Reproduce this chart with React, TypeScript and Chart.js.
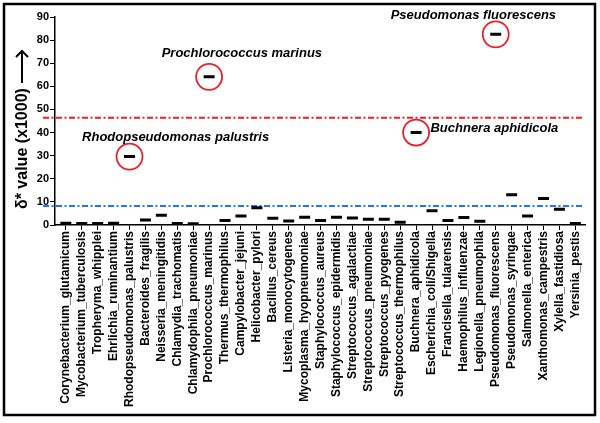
import React, { useEffect, useRef } from "react";
import { Chart, registerables } from "chart.js";

Chart.register(...registerables);

const categories = [
  "Corynebacterium_glutamicum",
  "Mycobacterium_tuberculosis",
  "Tropheryma_whipplei",
  "Ehrlichia_ruminantium",
  "Rhodopseudomonas_palustris",
  "Bacteroides_fragilis",
  "Neisseria_meningitidis",
  "Chlamydia_trachomatis",
  "Chlamydophila_pneumoniae",
  "Prochlorococcus_marinus",
  "Thermus_thermophilus",
  "Campylobacter_jejuni",
  "Helicobacter_pylori",
  "Bacillus_cereus",
  "Listeria_monocytogenes",
  "Mycoplasma_hyopneumoniae",
  "Staphylococcus_aureus",
  "Staphylococcus_epidermidis",
  "Streptococcus_agalactiae",
  "Streptococcus_pneumoniae",
  "Streptococcus_pyogenes",
  "Streptococcus_thermophilus",
  "Buchnera_aphidicola",
  "Escherichia_coli/Shigella",
  "Francisella_tularensis",
  "Haemophilus_influenzae",
  "Legionella_pneumophila",
  "Pseudomonas_fluorescens",
  "Pseudomonas_syringae",
  "Salmonella_enterica",
  "Xanthomonas_campestris",
  "Xylella_fastidiosa",
  "Yersinia_pestis",
];

const deltaValues = [
  0.8, 0.7, 0.6, 0.8, 29.6, 2.2, 4.2, 0.7, 0.5, 64.1, 1.9, 3.9, 7.5, 2.9, 1.7,
  3.3, 1.9, 3.3, 3.0, 2.5, 2.5, 1.2, 40.0, 6.2, 2.0, 3.2, 1.6, 82.5, 13.1, 3.9,
  11.5, 6.8, 0.7,
];

const highlightedIdx = [4, 9, 22, 27];

const thresholdHigh = 46.4;
const thresholdLow = 8.2;

const yTickValues = [0, 10, 20, 30, 40, 50, 60, 70, 80, 90];

const annotationTexts = [
  "Rhodopseudomonas palustris",
  "Prochlorococcus marinus",
  "Buchnera aphidicola",
  "Pseudomonas fluorescens",
];
const annotationX = [1.02, 6.02, 22.9, 20.4];
const annotationY = [38.0, 74.4, 41.9, 90.6];

const yTitle = "δ* value (x1000)";

const FONT = "'Liberation Sans', Arial, sans-serif";

const decorPlugin = {
  id: "decor",
  beforeDraw(chart: any) {
    const { ctx, width, height } = chart;
    ctx.save();
    ctx.fillStyle = "#ffffff";
    ctx.fillRect(0, 0, width, height);
    ctx.strokeStyle = "#000000";
    ctx.lineWidth = 2.5;
    ctx.strokeRect(4, 4, 591, 411);
    ctx.restore();
  },
  beforeDatasetsDraw(chart: any) {
    const { ctx, chartArea, scales } = chart;
    const y = scales.y;
    ctx.save();
    const lines = [
      { v: thresholdHigh, c: "#e8202a" },
      { v: thresholdLow, c: "#1a7cf0" },
    ];
    for (const l of lines) {
      const py = y.getPixelForValue(l.v);
      ctx.strokeStyle = l.c;
      ctx.lineWidth = 2;
      ctx.setLineDash([6, 2.5, 2, 2.5]);
      ctx.beginPath();
      ctx.moveTo(chartArea.left - 12, py);
      ctx.lineTo(chartArea.right - 2, py);
      ctx.stroke();
    }
    ctx.restore();
  },
  afterDraw(chart: any) {
    const { ctx, scales } = chart;
    const x = scales.x;
    const y = scales.y;
    ctx.save();
    // y axis title (rotated, reading upward)
    ctx.translate(23, 209);
    ctx.rotate(-Math.PI / 2);
    ctx.fillStyle = "#000000";
    ctx.font = `bold 16px ${FONT}`;
    ctx.textAlign = "left";
    ctx.textBaseline = "middle";
    ctx.fillText(yTitle, 0, 0);
    const tw = ctx.measureText(yTitle).width;
    const a0 = tw + 5;
    const a1 = 158;
    ctx.strokeStyle = "#000000";
    ctx.lineWidth = 2;
    ctx.beginPath();
    ctx.moveTo(a0, -1);
    ctx.lineTo(a1, -1);
    ctx.stroke();
    ctx.beginPath();
    ctx.moveTo(a1 - 6, -7);
    ctx.lineTo(a1, -1);
    ctx.lineTo(a1 - 6, 5);
    ctx.stroke();
    ctx.restore();

    ctx.save();
    ctx.fillStyle = "#000000";
    ctx.font = `italic bold 13px ${FONT}`;
    ctx.textAlign = "left";
    ctx.textBaseline = "middle";
    annotationTexts.forEach((t, i) => {
      ctx.fillText(
        t,
        x.getPixelForValue(annotationX[i]),
        y.getPixelForValue(annotationY[i])
      );
    });
    ctx.restore();
  },
};

export default function App() {
  const canvasRef = useRef<HTMLCanvasElement | null>(null);

  useEffect(() => {
    const canvas = canvasRef.current;
    if (!canvas) return;
    const chart = new Chart(canvas, {
      type: "scatter",
      data: {
        datasets: [
          {
            label: "circles",
            data: highlightedIdx.map((i) => ({ x: i, y: deltaValues[i] })),
            pointStyle: "circle",
            pointRadius: 13,
            pointBorderWidth: 1.8,
            pointBorderColor: "#e8202a",
            pointBackgroundColor: "rgba(0,0,0,0)",
            showLine: false,
          } as any,
          {
            label: "delta",
            data: deltaValues.map((v, i) => ({ x: i, y: v })),
            pointStyle: "line",
            pointRadius: 5.5,
            pointBorderWidth: 3,
            pointBorderColor: "#000000",
            pointBackgroundColor: "#000000",
            showLine: false,
          } as any,
        ],
      },
      options: {
        animation: false,
        responsive: false,
        events: [],
        layout: { padding: { left: 0, right: 8, top: 17, bottom: 0 } },
        plugins: {
          legend: { display: false },
          tooltip: { enabled: false },
          title: { display: false },
        },
        scales: {
          x: {
            type: "linear",
            min: -0.68,
            max: 32.62,
            afterBuildTicks: (scale: any) => {
              scale.ticks = categories.map((_, i) => ({ value: i }));
            },
            afterFit: (scale: any) => {
              scale.height = 198;
            },
            border: { display: true, color: "#000000", width: 1.5 },
            grid: {
              display: true,
              drawOnChartArea: false,
              drawTicks: true,
              tickLength: 5,
              color: "#000000",
              lineWidth: 1,
            },
            ticks: {
              autoSkip: false,
              minRotation: 90,
              maxRotation: 90,
              padding: 1,
              color: "#000000",
              font: { family: FONT, size: 12, weight: "bold" },
              callback: (value: any) => categories[Math.round(Number(value))] ?? "",
            },
          },
          y: {
            type: "linear",
            min: 0,
            max: 90,
            afterBuildTicks: (scale: any) => {
              scale.ticks = yTickValues.map((v) => ({ value: v }));
            },
            afterFit: (scale: any) => {
              scale.width = 55;
            },
            border: { display: true, color: "#000000", width: 1.5 },
            grid: {
              display: true,
              drawOnChartArea: false,
              drawTicks: true,
              tickLength: 5,
              color: "#000000",
              lineWidth: 1,
            },
            ticks: {
              padding: 1,
              color: "#000000",
              font: { family: FONT, size: 11, weight: "bold" },
            },
          },
        },
      } as any,
      plugins: [decorPlugin],
    });
    return () => chart.destroy();
  }, []);

  return (
    <div style={{ position: "absolute", left: 0, top: 0, width: 600, height: 423 }}>
      <canvas ref={canvasRef} width={600} height={423} />
    </div>
  );
}
